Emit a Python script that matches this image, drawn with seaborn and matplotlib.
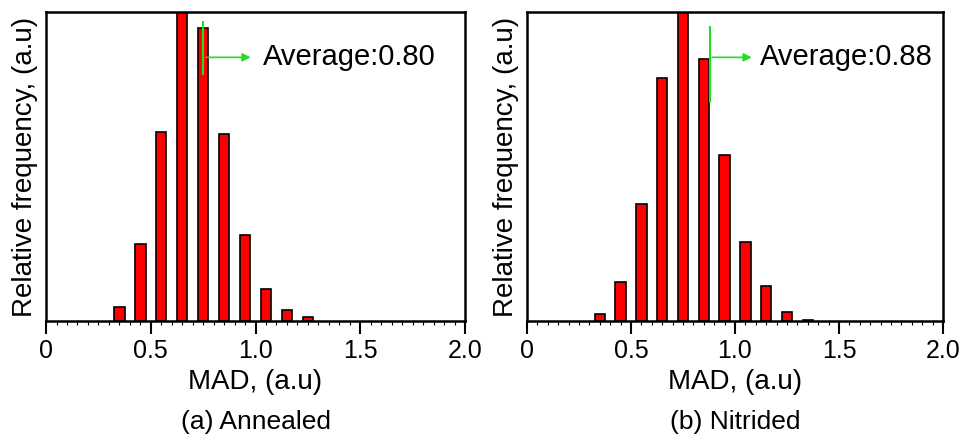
import matplotlib
matplotlib.use("Agg")
import matplotlib.pyplot as plt
import seaborn as sns
from matplotlib.ticker import MultipleLocator, FuncFormatter

# bin centres (MAD, a.u) and relative frequencies
bins_a = [0.35, 0.45, 0.55, 0.65, 0.75, 0.85, 0.95, 1.05, 1.15, 1.25]
freq_a = [0.045, 0.248, 0.612, 1.0, 0.948, 0.605, 0.278, 0.104, 0.035, 0.013]

bins_b = [0.35, 0.45, 0.55, 0.65, 0.75, 0.85, 0.95, 1.05, 1.15, 1.25, 1.35]
freq_b = [0.022, 0.126, 0.378, 0.785, 1.0, 0.847, 0.537, 0.256, 0.112, 0.029, 0.005]

avg_pos = [0.75, 0.878]
avg_text = ["Average:0.80", "Average:0.88"]
captions = ["(a) Annealed", "(b) Nitrided"]

sns.set_style("white")
plt.rcParams['font.family'] = ['Liberation Sans', 'DejaVu Sans']
plt.rcParams['text.color'] = 'black'
plt.rcParams['axes.labelcolor'] = 'black'
plt.rcParams['xtick.color'] = 'black'

fig = plt.figure(figsize=(9.71, 4.41), dpi=100)
ax_a = fig.add_axes([0.0474, 0.272, 0.4315, 0.701])
ax_b = fig.add_axes([0.5427, 0.272, 0.4284, 0.701])

panels = [(ax_a, bins_a, freq_a, 0), (ax_b, bins_b, freq_b, 1)]
avg_vspan = [(0.796, 0.972), (0.706, 0.955)]
arrow_end = [0.99, 1.094]
text_x = [1.035, 1.12]

for ax, bins, freq, i in panels:
    sns.barplot(x=bins, y=freq, native_scale=True, width=0.5, color="#ff0000",
                edgecolor="black", linewidth=1.2, saturation=1, ax=ax)
    ax.set_xlim(0, 2.0)
    ax.set_ylim(0, 1.0)
    ax.set_yticks([])
    ax.xaxis.set_major_locator(MultipleLocator(0.5))
    ax.xaxis.set_minor_locator(MultipleLocator(0.05))
    ax.xaxis.set_major_formatter(FuncFormatter(lambda v, p: "0" if v == 0 else f"{v:.1f}"))
    ax.tick_params(axis="x", which="major", direction="out", length=9, width=1.5,
                   labelsize=18, pad=4, bottom=True)
    ax.tick_params(axis="x", which="minor", direction="out", length=3, width=0.8, bottom=True)
    for s in ax.spines.values():
        s.set_linewidth(1.8)
        s.set_color("black")
    ax.set_xlabel("MAD, (a.u)", fontsize=20, labelpad=4)
    ax.set_ylabel("Relative frequency, (a.u)", fontsize=20, labelpad=6)

    # average marker
    x0 = avg_pos[i]
    lo, hi = avg_vspan[i]
    ax.vlines(x0, lo, hi, color="#22dd22", linewidth=1.5)
    ax.annotate("", xy=(arrow_end[i], 0.853), xytext=(x0, 0.853),
                arrowprops=dict(arrowstyle="-|>", color="#22dd22", lw=1.2, mutation_scale=12))
    ax.text(text_x[i], 0.853, avg_text[i], fontsize=21, va="center", ha="left")

    ax.text(0.5, -0.327, captions[i], transform=ax.transAxes, fontsize=19,
            ha="center", va="center")

fig.savefig("out.png", dpi=100)
